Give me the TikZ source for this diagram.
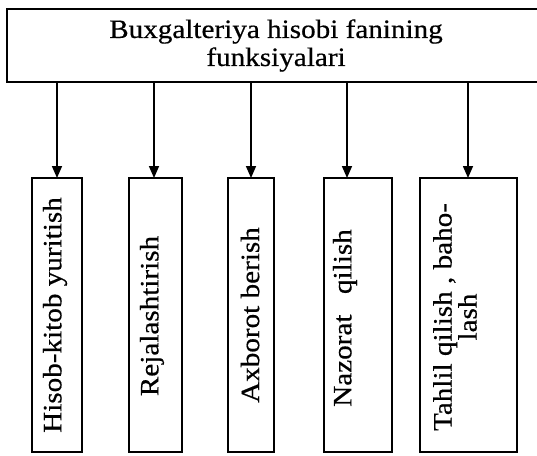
\documentclass[tikz,border=0pt]{standalone}
\usepackage{fontspec}
\setmainfont{Liberation Serif}[FakeStretch=1.1, FakeBold=0.5]
\usetikzlibrary{arrows.meta}
\begin{document}
\begin{tikzpicture}[x=1pt,y=-1pt,
  fbox/.style={draw, rectangle, inner sep=0pt, line width=1.8pt},
  vtext/.style={rotate=90, font=\fontsize{26.5}{23}\selectfont, align=center, inner sep=0pt},
  arr/.style={-{Triangle[width=10pt,length=12pt]}, line width=1.6pt}]
\useasboundingbox (0,0) rectangle (537,455);
\node[fbox, minimum width=538pt, minimum height=73pt, align=center,
      font=\fontsize{26.5}{28}\selectfont] (top) at (276,45.5)
  {Buxgalteriya hisobi fanining\\funksiyalari};
\node[fbox, minimum width=50pt, minimum height=274pt] (b1) at (57,315) {};
\node[fbox, minimum width=53pt, minimum height=274pt] (b2) at (155.5,315) {};
\node[fbox, minimum width=46pt, minimum height=274pt] (b3) at (251,315) {};
\node[fbox, minimum width=68pt, minimum height=274pt] (b4) at (358,315) {};
\node[fbox, minimum width=97pt, minimum height=274pt] (b5) at (468.5,315) {};
\node[vtext] (t1) at (55,315) {Hisob-kitob yuritish};
\node[vtext] (t2) at (152,316) {Rejalashtirish};
\node[vtext] (t3) at (250,315) {Axborot berish};
\node[vtext] (t4) at (345,318) {Nazorat\hspace{0.5em} qilish};
\node[vtext] (t5) at (455,317) {Tahlil qilish , baho-\\lash};
\coordinate (a1) at (57,178);
\coordinate (a2) at (154,178);
\coordinate (a3) at (251,178);
\coordinate (a4) at (347,178);
\coordinate (a5) at (468,178);
\foreach \i in {1,...,5}{
  \draw[arr] (top.south -| a\i) -- (a\i);
}
\end{tikzpicture}
\end{document}
